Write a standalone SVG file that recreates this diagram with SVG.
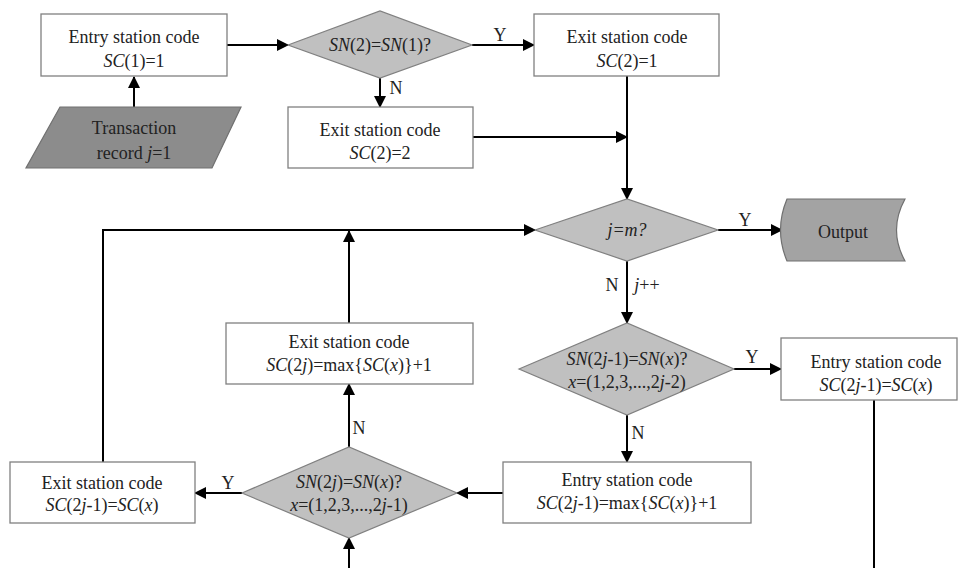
<svg xmlns="http://www.w3.org/2000/svg" width="958" height="568" viewBox="0 0 958 568" font-family="'Liberation Serif', 'DejaVu Serif', serif">
<defs>
<marker id="ah" markerUnits="userSpaceOnUse" markerWidth="12" markerHeight="12" refX="11" refY="6" orient="auto">
<path d="M0,0 L12,6 L0,12 z" fill="#000"/>
</marker>
<style>
text{font-family:'Liberation Serif','DejaVu Serif',serif;font-size:18px;fill:#222;text-anchor:middle}
.i{font-style:italic}
.box{fill:#fff;stroke:#808080;stroke-width:1.3}
.dia{fill:#c0c0c0;stroke:#808080;stroke-width:1.2}
.dk{fill:#a0a0a0;stroke:#707070;stroke-width:1.2}
.c{fill:none;stroke:#000;stroke-width:2}
.a{marker-end:url(#ah)}
</style>
</defs>
<rect width="958" height="568" fill="#fff"/>
<g id="connectors">
<line class="c a" x1="227" y1="45" x2="288" y2="45"/>
<line class="c a" x1="134" y1="107" x2="134" y2="77"/>
<line class="c a" x1="380" y1="78" x2="380" y2="107"/>
<line class="c a" x1="472" y1="45" x2="534" y2="45"/>
<line class="c" x1="627" y1="76" x2="627" y2="190"/>
<line class="c a" x1="473" y1="137" x2="627" y2="137"/>
<line class="c a" x1="627" y1="137" x2="627" y2="199"/>
<line class="c a" x1="718" y1="230" x2="782" y2="230"/>
<line class="c a" x1="627" y1="261" x2="627" y2="323"/>
<line class="c a" x1="734" y1="369" x2="781" y2="369"/>
<line class="c" x1="874" y1="400" x2="874" y2="568"/>
<line class="c a" x1="627" y1="415" x2="627" y2="462"/>
<line class="c a" x1="503" y1="493" x2="457" y2="493"/>
<line class="c a" x1="242" y1="493" x2="195" y2="493"/>
<line class="c a" x1="349" y1="447" x2="349" y2="384"/>
<line class="c a" x1="349" y1="568" x2="349" y2="538"/>
<line class="c a" x1="349" y1="323" x2="349" y2="231"/>
<polyline class="c a" points="103,462 103,230 535,230"/>
</g>
<g id="labels">
<text x="500" y="41">Y</text>
<text x="396" y="94">N</text>
<text x="745" y="226">Y</text>
<text x="612" y="291">N</text>
<text x="647" y="291"><tspan class="i">j</tspan>++</text>
<text x="752" y="363">Y</text>
<text x="638" y="439">N</text>
<text x="359" y="434">N</text>
<text x="228" y="489">Y</text>
</g>
<g id="n1"><rect class="box" x="41" y="14" width="186" height="62"/>
<text x="134" y="43">Entry station code</text><text x="134" y="67"><tspan class="i">SC</tspan>(1)=1</text></g>
<g id="n2"><polygon class="dk" points="60,107 241,107 212,168 26,168" style="fill:#8c8c8c"/>
<text x="134" y="134">Transaction</text><text x="134" y="159">record <tspan class="i">j</tspan>=1</text></g>
<g id="n3"><polygon class="dia" points="288,45 380,11 472,45 380,78"/>
<text x="380" y="51"><tspan class="i">SN</tspan>(2)=<tspan class="i">SN</tspan>(1)?</text></g>
<g id="n4"><rect class="box" x="288" y="107" width="185" height="61"/>
<text x="380" y="136">Exit station code</text><text x="380" y="159"><tspan class="i">SC</tspan>(2)=2</text></g>
<g id="n5"><rect class="box" x="534" y="14" width="185" height="62"/>
<text x="627" y="43">Exit station code</text><text x="627" y="67"><tspan class="i">SC</tspan>(2)=1</text></g>
<g id="n6"><polygon class="dia" points="535,230 627,199 718,230 627,261"/>
<text x="627" y="236" class="i">j=m?</text></g>
<g id="n7"><path class="dk" d="M787,199 L905,199 Q888,230 905,261 L787,261 Q774,230 787,199 z" style="fill:#a3a3a3"/>
<text x="843" y="238">Output</text></g>
<g id="n8"><polygon class="dia" points="519,369 627,323 734,369 627,415"/>
<text x="627" y="365"><tspan class="i">SN</tspan>(2<tspan class="i">j</tspan>-1)=<tspan class="i">SN</tspan>(<tspan class="i">x</tspan>)?</text>
<text x="627" y="388"><tspan class="i">x</tspan>=(1,2,3,...,2<tspan class="i">j</tspan>-2)</text></g>
<g id="n9"><rect class="box" x="781" y="338" width="176" height="62"/>
<text x="876" y="368">Entry station code</text><text x="876" y="391"><tspan class="i">SC</tspan>(2<tspan class="i">j</tspan>-1)=<tspan class="i">SC</tspan>(<tspan class="i">x</tspan>)</text></g>
<g id="n10"><rect class="box" x="503" y="462" width="248" height="61"/>
<text x="627" y="486">Entry station code</text><text x="627" y="509"><tspan class="i">SC</tspan>(2<tspan class="i">j</tspan>-1)=max{<tspan class="i">SC</tspan>(<tspan class="i">x</tspan>)}+1</text></g>
<g id="n11"><rect class="box" x="226" y="323" width="247" height="61"/>
<text x="349" y="348">Exit station code</text><text x="349" y="371"><tspan class="i">SC</tspan>(2<tspan class="i">j</tspan>)=max{<tspan class="i">SC</tspan>(<tspan class="i">x</tspan>)}+1</text></g>
<g id="n12"><polygon class="dia" points="242,493 349,447 457,493 349,538"/>
<text x="349" y="488"><tspan class="i">SN</tspan>(2<tspan class="i">j</tspan>)=<tspan class="i">SN</tspan>(<tspan class="i">x</tspan>)?</text>
<text x="349" y="511"><tspan class="i">x</tspan>=(1,2,3,...,2<tspan class="i">j</tspan>-1)</text></g>
<g id="n13"><rect class="box" x="10" y="462" width="185" height="61"/>
<text x="102" y="489">Exit station code</text><text x="102" y="511"><tspan class="i">SC</tspan>(2<tspan class="i">j</tspan>-1)=<tspan class="i">SC</tspan>(<tspan class="i">x</tspan>)</text></g>
</svg>
